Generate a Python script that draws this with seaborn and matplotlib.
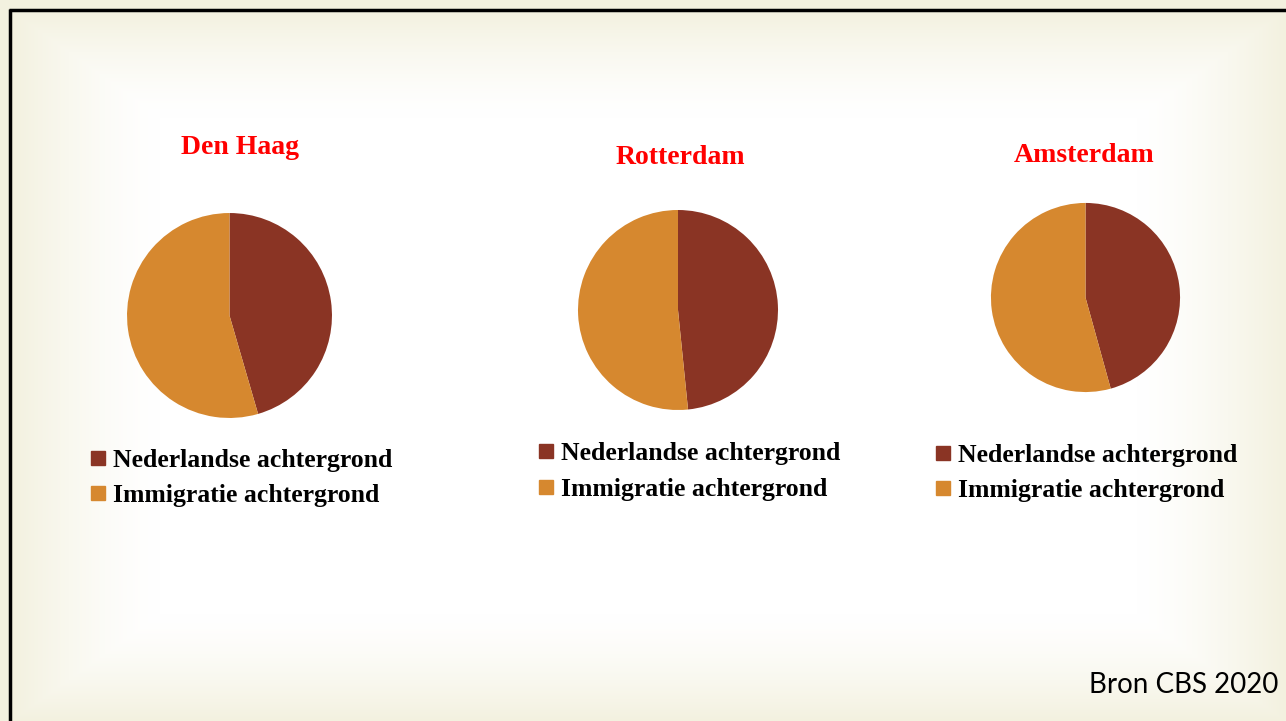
import numpy as np
import matplotlib.pyplot as plt
import seaborn as sns
from matplotlib.lines import Line2D

# ---------------- Data ----------------
cities = ["Den Haag", "Rotterdam", "Amsterdam"]
labels = ["Nederlandse achtergrond", "Immigratie achtergrond"]
nederlands = [45.5, 48.4, 45.7]      # % met Nederlandse achtergrond
immigratie = [54.5, 51.6, 54.3]      # % met migratieachtergrond
source = "Bron CBS 2020"

colors = ["#8A3424", "#D6882F"]

# ---------------- Layout (pixels) ----------------
W, H = 1286, 721
pie_boxes = [(229.5, 315.5, 103.5), (678, 310, 101), (1085.5, 297.5, 95.5)]
title_pos = [(240, 147), (680, 157), (1084, 156)]
legend_pos = [(91, 478), (539, 471.5), (936, 473)]

sns.set_theme(style="white")
plt.rcParams["font.family"] = ["Liberation Serif", "DejaVu Serif"]
plt.rcParams["text.color"] = "black"

fig = plt.figure(figsize=(W / 100, H / 100), dpi=100)

# slide background with soft cream vignette
bg = fig.add_axes([0, 0, 1, 1])
xx, yy = np.meshgrid(np.arange(W), np.arange(H))
dx = np.minimum(xx - 10, W - xx)
dy = np.minimum(yy - 10, H - yy)
d = np.minimum(dx, dy * 1.4)
s = np.clip(1 - d / 150, 0, 1)
t = s ** 1.4
cream = np.array([243, 241, 223]) / 255
img = (1 - t[..., None]) * 1.0 + t[..., None] * cream
bg.imshow(img, extent=[0, W, H, 0], aspect="auto")
bg.plot([9, W], [10, 10], color="black", lw=2.5, solid_capstyle="butt")
bg.plot([10, 10], [9, H], color="black", lw=2.5, solid_capstyle="butt")
bg.set_xlim(0, W)
bg.set_ylim(H, 0)
bg.axis("off")

for i, city in enumerate(cities):
    cx, cy, r = pie_boxes[i]
    ax = fig.add_axes([(cx - r) / W, (H - cy - r) / H, 2 * r / W, 2 * r / H])
    ax.pie([nederlands[i], immigratie[i]], colors=colors, startangle=90,
           counterclock=False, radius=1, wedgeprops=dict(linewidth=0))
    ax.set_xlim(-1.01, 1.01)
    ax.set_ylim(-1.01, 1.01)
    ax.set_aspect("auto")

    tx, ty = title_pos[i]
    fig.text(tx / W, 1 - ty / H, city, color="red", fontsize=20,
             fontweight="bold", ha="center", va="center")

    handles = [Line2D([], [], marker="s", linestyle="none", markersize=9.5,
                      markerfacecolor=c, markeredgecolor=c) for c in colors]
    lx, ly = legend_pos[i]
    fig.legend(handles, labels, loc="center left",
               bbox_to_anchor=(lx / W, 1 - ly / H), frameon=False,
               prop=dict(size=18.5, weight="bold"), handlelength=0.55,
               handletextpad=0.3, labelspacing=0.48, borderpad=0,
               borderaxespad=0, labelcolor="black")

fig.text(1278 / W, 1 - 685 / H, source, fontsize=20, ha="right", va="center",
         color="black", family=["Lato", "DejaVu Sans"])

fig.savefig("out.png", dpi=100)
